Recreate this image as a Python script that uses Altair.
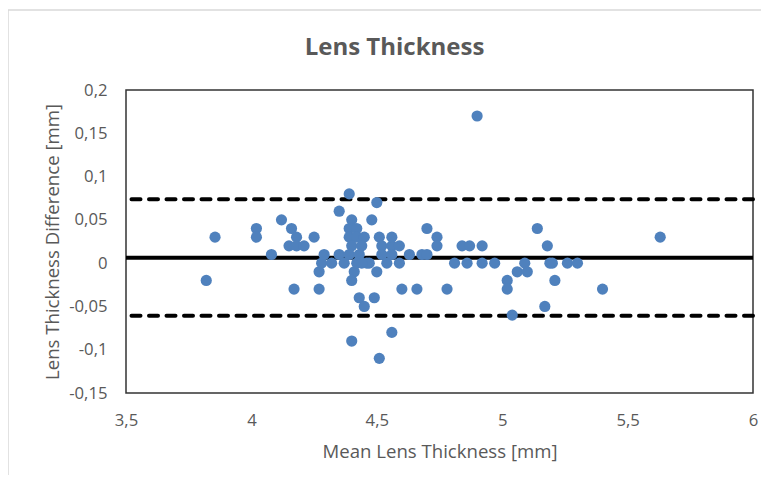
import altair as alt
import pandas as pd

# Bland-Altman data: mean lens thickness [mm] vs. difference [mm]
mean_thickness = [
    3.82, 3.855, 4.02, 4.02, 4.08, 4.12, 4.15, 4.16, 4.17, 4.18,
    4.18, 4.21, 4.25, 4.27, 4.27, 4.28, 4.29, 4.32, 4.35, 4.35,
    4.37, 4.39, 4.40, 4.39, 4.42, 4.39, 4.42, 4.45, 4.40, 4.44,
    4.39, 4.43, 4.41, 4.40, 4.43, 4.45, 4.40, 4.46, 4.47, 4.48,
    4.50, 4.49, 4.50, 4.51, 4.51, 4.52, 4.52, 4.54, 4.56, 4.56,
    4.56, 4.56, 4.59, 4.59, 4.60, 4.63, 4.66, 4.68, 4.70, 4.70,
    4.74, 4.74, 4.78, 4.81, 4.84, 4.86, 4.87, 4.90, 4.92, 4.92,
    4.97, 5.02, 5.02, 5.04, 5.06, 5.09, 5.10, 5.14, 5.17, 5.18,
    5.19, 5.20, 5.21, 5.26, 5.30, 5.40, 5.63, 4.42, 4.44,
]
difference = [
    -0.02, 0.03, 0.04, 0.03, 0.01, 0.05, 0.02, 0.04, -0.03, 0.03,
    0.02, 0.02, 0.03, -0.01, -0.03, 0.00, 0.01, 0.00, 0.01, 0.06,
    0.00, 0.08, 0.05, 0.04, 0.04, 0.03, 0.03, 0.03, 0.02, 0.02,
    0.01, 0.01, -0.01, -0.02, -0.04, -0.05, -0.09, 0.00, 0.00, 0.05,
    0.07, -0.04, -0.01, 0.03, -0.11, 0.02, 0.01, 0.00, 0.02, -0.08,
    0.03, 0.01, 0.02, 0.00, -0.03, 0.01, -0.03, 0.01, 0.01, 0.04,
    0.03, 0.02, -0.03, 0.00, 0.02, 0.00, 0.02, 0.17, 0.02, 0.00,
    0.00, -0.02, -0.03, -0.06, -0.01, 0.00, -0.01, 0.04, -0.05, 0.02,
    0.00, 0.00, -0.02, 0.00, 0.00, -0.03, 0.03, 0.00, 0.00,
]

# Mean difference and limits of agreement
line_names = ["mean", "upper", "lower"]
line_values = [0.0062, 0.0737, -0.0608]

x_ticks = [3.5, 4, 4.5, 5, 5.5, 6]
y_ticks = [-0.15, -0.1, -0.05, 0, 0.05, 0.1, 0.15, 0.2]

points_df = pd.DataFrame({"x": mean_thickness, "y": difference})
lines_df = pd.DataFrame({"name": line_names, "y": line_values})

FONT = "Open Sans"
GREY = "#595959"
comma_expr = "replace('' + datum.value, '.', ',')"

x_scale = alt.Scale(domain=[3.5, 6], nice=False, zero=False)
y_scale = alt.Scale(domain=[-0.15, 0.2], nice=False, zero=False)

x_axis = alt.Axis(
    title="Mean Lens Thickness [mm]",
    values=x_ticks,
    labelExpr=comma_expr,
    grid=False, domain=False, ticks=False, tickSize=0,
    labelFlush=False, labelOverlap=False,
    labelPadding=19, labelFontSize=16.7, labelColor=GREY, labelFont=FONT,
    titleFontSize=18.6, titleColor=GREY, titleFont=FONT, titleFontWeight="normal",
    titleBaseline="alphabetic", titleY=64,
)
y_axis = alt.Axis(
    title="Lens Thickness Difference [mm]",
    values=y_ticks,
    labelExpr=comma_expr,
    grid=False, domain=False, ticks=False, tickSize=0,
    labelFlush=False, labelOverlap=False,
    labelPadding=19, labelFontSize=16.7, labelColor=GREY, labelFont=FONT,
    titleFontSize=18.6, titleColor=GREY, titleFont=FONT, titleFontWeight="normal",
    titleAngle=270, titleBaseline="alphabetic", titleX=-67.5, titleY=151.5,
    titleAlign="center",
)

# outer chart-area border (decoration only)
border = alt.Chart(pd.DataFrame({"a": [0]})).mark_rect(
    fill="transparent", stroke="#d9d9d9", strokeWidth=1.5
).encode(
    x=alt.value(-118), x2=alt.value(700), y=alt.value(-80), y2=alt.value(450)
)

mean_rule = alt.Chart(lines_df[lines_df["name"] == "mean"]).mark_rule(
    color="black", strokeWidth=4
).encode(y=alt.Y("y:Q", scale=y_scale, axis=y_axis))

loa_rule = alt.Chart(lines_df[lines_df["name"] != "mean"]).mark_rule(
    color="black", strokeWidth=4, strokeDash=[9, 8.5], strokeCap="round"
).encode(y=alt.Y("y:Q", scale=y_scale, axis=y_axis))

points = alt.Chart(points_df).mark_circle(
    size=125, color="#4f81bd", opacity=1
).encode(
    x=alt.X("x:Q", scale=x_scale, axis=x_axis),
    y=alt.Y("y:Q", scale=y_scale, axis=y_axis),
)

chart = alt.layer(border, mean_rule, loa_rule, points).properties(
    width=627,
    height=303,
    autosize=alt.AutoSizeParams(type="none"),
    padding={"left": 118, "top": 82, "right": 8, "bottom": 82},
    title=alt.TitleParams(
        "Lens Thickness", fontSize=24, fontWeight="bold", color=GREY, font=FONT,
        anchor="middle", dx=-45, offset=-70, baseline="alphabetic", frame="group",
    ),
    background="white",
).configure_view(
    stroke="#333333", strokeWidth=1.5
)

chart.save("out.html", embed_options={"renderer": "svg", "actions": False})
